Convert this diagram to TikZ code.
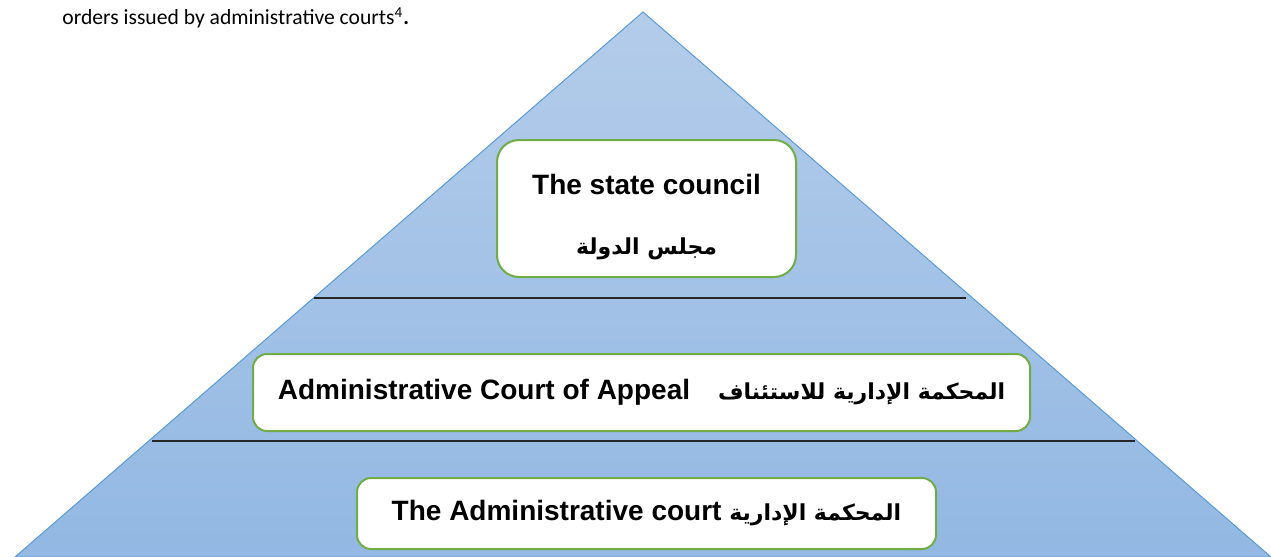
\documentclass[tikz,border=0pt]{standalone}
\usepackage{fontspec}
\setmainfont{Liberation Sans}
\newfontfamily\bodyfont{Carlito}
\newfontfamily\arabicfont[Script=Arabic]{DejaVu Sans}
\TeXXeTstate=1
\usetikzlibrary{positioning}
\definecolor{pyrtop}{RGB}{180,204,234}
\definecolor{pyrbot}{RGB}{146,184,227}
\definecolor{pyredge}{RGB}{91,155,213}
\definecolor{courtgreen}{RGB}{112,173,71}
\newcommand{\ar}[1]{{\arabicfont\bfseries\fontsize{11}{13}\selectfont\beginR #1\endR}}
\tikzset{court/.style={draw=courtgreen,line width=1pt,fill=white,font=\fontsize{14}{17}\selectfont\bfseries,align=center,inner sep=0pt},
divider/.style={draw=black!85,line width=0.8pt}}

\begin{document}
\begin{tikzpicture}[x=0.5pt,y=-0.5pt]
\useasboundingbox (0,0) rectangle (1271,557);
\shade[top color=pyrtop,bottom color=pyrbot,draw=pyredge,line width=0.5pt] (643,12) -- (1271,557) -- (15,557) -- cycle;
\node[anchor=base west,inner sep=0pt,font=\bodyfont\fontsize{10.8}{12}\selectfont] (intro) at (62,25) {orders issued by administrative courts\textsuperscript{4}\textbf{.}};
\coordinate (L1a) at (314,298);
\coordinate (L1b) at (966,298);
\coordinate (L2a) at (152,441);
\coordinate (L2b) at (1135,441);
\path[divider] (L1a) edge (L1b) (L2a) edge (L2b);
\node[court,rounded corners=11pt,minimum width=149.5pt,minimum height=68.5pt] (council) at (646.5,208.5) {\rule{0pt}{19pt}The state council\\[13pt]\ar{مجلس الدولة}};
\node[court,rounded corners=7pt,minimum width=388.5pt,minimum height=38.5pt] (appeal) at (641.5,392.5) {Administrative Court of Appeal\hspace{1em}\ar{المحكمة الإدارية للاستئناف}};
\node[court,rounded corners=7pt,minimum width=289.5pt,minimum height=35.5pt] (admin) at (646.5,513.5) {The Administrative court \ar{المحكمة الإدارية}};
\end{tikzpicture}
\end{document}
